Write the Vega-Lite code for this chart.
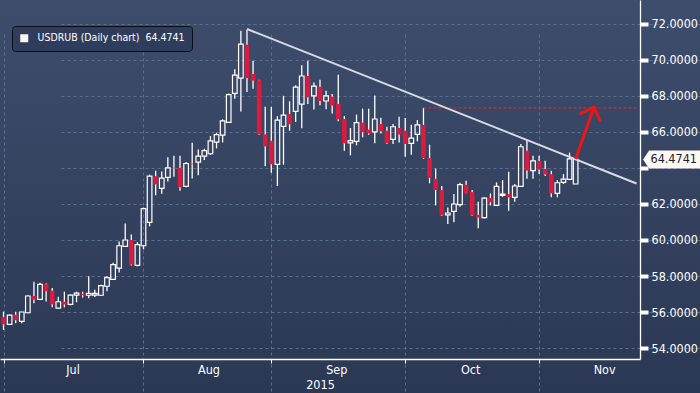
{
  "$schema": "https://vega.github.io/schema/vega-lite/v6.json",
  "width": 700,
  "height": 393,
  "autosize": {"type": "none"},
  "padding": 0,
  "background": "#2c3a57",
  "view": {"stroke": null, "fill": {"gradient": "linear", "x1": 0, "y1": 0, "x2": 0, "y2": 1, "stops": [{"offset": 0, "color": "#3f4d6d"}, {"offset": 1, "color": "#2a3854"}]}},
  "config": {"font": "DejaVu Sans Condensed"},
  "datasets": {
    "candles": [
      {"d":"2015-07-01","o":55.74,"h":56.02,"l":55.00,"c":55.30},
      {"d":"2015-07-02","o":55.31,"h":55.85,"l":55.29,"c":55.83},
      {"d":"2015-07-03","o":55.85,"h":56.02,"l":55.37,"c":55.54},
      {"d":"2015-07-06","o":55.48,"h":56.02,"l":55.37,"c":56.00},
      {"d":"2015-07-07","o":55.96,"h":56.93,"l":55.93,"c":56.89},
      {"d":"2015-07-08","o":56.89,"h":57.68,"l":56.48,"c":56.68},
      {"d":"2015-07-09","o":56.70,"h":57.63,"l":56.68,"c":57.54},
      {"d":"2015-07-10","o":57.54,"h":57.59,"l":56.59,"c":57.15},
      {"d":"2015-07-13","o":57.18,"h":57.33,"l":56.26,"c":56.42},
      {"d":"2015-07-14","o":56.22,"h":56.85,"l":56.20,"c":56.57},
      {"d":"2015-07-15","o":56.57,"h":57.13,"l":56.26,"c":56.42},
      {"d":"2015-07-16","o":56.42,"h":56.98,"l":56.37,"c":56.94},
      {"d":"2015-07-17","o":56.94,"h":57.13,"l":56.54,"c":57.05},
      {"d":"2015-07-20","o":57.02,"h":57.13,"l":56.80,"c":56.94},
      {"d":"2015-07-21","o":56.93,"h":57.98,"l":56.76,"c":57.04},
      {"d":"2015-07-22","o":56.94,"h":57.24,"l":56.83,"c":57.04},
      {"d":"2015-07-23","o":56.93,"h":57.52,"l":56.89,"c":57.46},
      {"d":"2015-07-24","o":57.43,"h":58.00,"l":57.15,"c":57.91},
      {"d":"2015-07-27","o":57.81,"h":58.74,"l":57.80,"c":58.63},
      {"d":"2015-07-28","o":58.44,"h":59.91,"l":58.20,"c":59.68},
      {"d":"2015-07-29","o":59.65,"h":60.91,"l":59.62,"c":60.00},
      {"d":"2015-07-30","o":60.00,"h":60.30,"l":58.59,"c":58.63},
      {"d":"2015-07-31","o":58.59,"h":59.89,"l":58.54,"c":59.74},
      {"d":"2015-08-03","o":59.68,"h":61.80,"l":59.48,"c":61.74},
      {"d":"2015-08-04","o":60.98,"h":63.63,"l":60.76,"c":63.55},
      {"d":"2015-08-05","o":63.55,"h":63.85,"l":62.48,"c":63.09},
      {"d":"2015-08-06","o":62.87,"h":63.81,"l":62.57,"c":63.44},
      {"d":"2015-08-07","o":63.48,"h":64.59,"l":63.25,"c":64.01},
      {"d":"2015-08-10","o":64.02,"h":64.68,"l":63.51,"c":63.98},
      {"d":"2015-08-11","o":64.01,"h":64.68,"l":62.74,"c":62.92},
      {"d":"2015-08-12","o":62.98,"h":64.33,"l":62.93,"c":64.25},
      {"d":"2015-08-13","o":64.24,"h":65.40,"l":63.42,"c":64.20},
      {"d":"2015-08-14","o":64.33,"h":65.03,"l":63.59,"c":64.66},
      {"d":"2015-08-17","o":64.66,"h":65.07,"l":64.44,"c":64.96},
      {"d":"2015-08-18","o":64.79,"h":65.77,"l":64.72,"c":65.50},
      {"d":"2015-08-19","o":65.44,"h":65.96,"l":65.09,"c":65.85},
      {"d":"2015-08-20","o":65.83,"h":66.70,"l":65.42,"c":66.62},
      {"d":"2015-08-21","o":66.53,"h":68.14,"l":66.50,"c":68.07},
      {"d":"2015-08-24","o":68.14,"h":69.48,"l":67.85,"c":69.16},
      {"d":"2015-08-25","o":68.99,"h":71.62,"l":67.14,"c":70.88},
      {"d":"2015-08-26","o":70.85,"h":71.66,"l":68.22,"c":68.99},
      {"d":"2015-08-27","o":69.22,"h":69.96,"l":68.40,"c":68.85},
      {"d":"2015-08-28","o":68.88,"h":68.90,"l":65.85,"c":65.87},
      {"d":"2015-08-31","o":65.87,"h":67.40,"l":64.10,"c":65.20},
      {"d":"2015-09-01","o":65.51,"h":67.40,"l":63.74,"c":64.20},
      {"d":"2015-09-02","o":64.20,"h":66.88,"l":63.00,"c":66.66},
      {"d":"2015-09-03","o":66.31,"h":68.01,"l":64.18,"c":66.94},
      {"d":"2015-09-04","o":67.00,"h":67.70,"l":66.07,"c":66.42},
      {"d":"2015-09-07","o":67.14,"h":68.60,"l":66.55,"c":68.49},
      {"d":"2015-09-08","o":67.55,"h":69.70,"l":66.20,"c":69.11},
      {"d":"2015-09-09","o":69.11,"h":69.96,"l":67.55,"c":67.92},
      {"d":"2015-09-10","o":68.00,"h":68.75,"l":67.25,"c":68.55},
      {"d":"2015-09-11","o":68.51,"h":68.90,"l":67.48,"c":67.72},
      {"d":"2015-09-14","o":67.72,"h":68.29,"l":67.26,"c":68.00},
      {"d":"2015-09-15","o":67.96,"h":68.11,"l":67.03,"c":67.46},
      {"d":"2015-09-16","o":67.55,"h":69.18,"l":66.59,"c":66.70},
      {"d":"2015-09-17","o":66.72,"h":66.89,"l":64.96,"c":65.37},
      {"d":"2015-09-18","o":65.39,"h":66.22,"l":64.70,"c":65.52},
      {"d":"2015-09-21","o":65.48,"h":66.96,"l":65.26,"c":66.52},
      {"d":"2015-09-22","o":66.52,"h":67.29,"l":65.70,"c":65.98},
      {"d":"2015-09-23","o":66.13,"h":67.29,"l":65.85,"c":65.92},
      {"d":"2015-09-24","o":66.00,"h":68.02,"l":65.37,"c":66.72},
      {"d":"2015-09-25","o":66.44,"h":66.79,"l":65.92,"c":66.03},
      {"d":"2015-09-28","o":66.07,"h":66.29,"l":65.33,"c":65.37},
      {"d":"2015-09-29","o":65.59,"h":66.44,"l":65.33,"c":66.29},
      {"d":"2015-09-30","o":66.22,"h":66.85,"l":65.41,"c":65.85},
      {"d":"2015-10-01","o":66.07,"h":66.77,"l":64.63,"c":65.33},
      {"d":"2015-10-02","o":65.37,"h":66.40,"l":64.74,"c":65.66},
      {"d":"2015-10-05","o":65.87,"h":66.66,"l":65.48,"c":66.39},
      {"d":"2015-10-06","o":66.39,"h":67.34,"l":64.50,"c":64.55},
      {"d":"2015-10-07","o":64.55,"h":65.29,"l":63.15,"c":63.44},
      {"d":"2015-10-08","o":63.40,"h":63.96,"l":61.92,"c":62.77},
      {"d":"2015-10-09","o":62.77,"h":63.00,"l":61.33,"c":61.37},
      {"d":"2015-10-12","o":61.39,"h":61.81,"l":60.89,"c":61.50},
      {"d":"2015-10-13","o":61.59,"h":62.55,"l":60.98,"c":62.00},
      {"d":"2015-10-14","o":61.96,"h":63.18,"l":61.85,"c":63.07},
      {"d":"2015-10-15","o":63.07,"h":63.29,"l":62.60,"c":62.61},
      {"d":"2015-10-16","o":62.66,"h":62.77,"l":61.35,"c":61.37},
      {"d":"2015-10-19","o":61.40,"h":62.12,"l":60.65,"c":61.24},
      {"d":"2015-10-20","o":61.24,"h":62.38,"l":61.20,"c":62.33},
      {"d":"2015-10-21","o":62.33,"h":62.59,"l":61.92,"c":62.09},
      {"d":"2015-10-22","o":61.92,"h":63.20,"l":61.90,"c":62.98},
      {"d":"2015-10-23","o":62.48,"h":63.33,"l":62.40,"c":62.55},
      {"d":"2015-10-26","o":62.55,"h":63.79,"l":61.62,"c":62.37},
      {"d":"2015-10-27","o":62.37,"h":63.11,"l":62.12,"c":63.00},
      {"d":"2015-10-28","o":62.98,"h":65.33,"l":62.96,"c":65.18},
      {"d":"2015-10-29","o":64.96,"h":65.55,"l":63.40,"c":63.85},
      {"d":"2015-10-30","o":63.85,"h":64.68,"l":63.40,"c":64.40},
      {"d":"2015-11-02","o":64.40,"h":64.68,"l":63.66,"c":63.90},
      {"d":"2015-11-03","o":63.94,"h":64.40,"l":63.55,"c":63.64},
      {"d":"2015-11-04","o":63.66,"h":63.85,"l":62.37,"c":62.59},
      {"d":"2015-11-05","o":62.59,"h":63.33,"l":62.37,"c":63.18},
      {"d":"2015-11-06","o":63.20,"h":63.66,"l":63.11,"c":63.38},
      {"d":"2015-11-09","o":63.37,"h":64.85,"l":63.35,"c":64.51},
      {"d":"2015-11-10","o":63.11,"h":64.52,"l":63.10,"c":64.4741}
    ],
    "trend": [{"d":"2015-08-26","v":71.72},{"d":"2015-11-24","v":63.14}],
    "hline": [{"d":"2015-10-06","d2":"2015-11-24","v":67.34}],
    "arrow": [{"d":"2015-11-10","v":64.50},{"d":"2015-11-13","v":67.37}],
    "tip": [{"d":"2015-11-13","v":67.37}],
    "last": [{"d":"2015-11-24","v":64.4741}]
  },
  "data": {"name": "candles"},
  "encoding": {
    "x": {
      "field": "d", "type": "ordinal",
      "scale": {"type": "point", "range": [0, 640], "padding": 0.577, "domain": [
        "2015-07-01","2015-07-02","2015-07-03","2015-07-06","2015-07-07","2015-07-08","2015-07-09","2015-07-10","2015-07-13","2015-07-14","2015-07-15","2015-07-16","2015-07-17","2015-07-20","2015-07-21","2015-07-22","2015-07-23","2015-07-24","2015-07-27","2015-07-28","2015-07-29","2015-07-30","2015-07-31",
        "2015-08-03","2015-08-04","2015-08-05","2015-08-06","2015-08-07","2015-08-10","2015-08-11","2015-08-12","2015-08-13","2015-08-14","2015-08-17","2015-08-18","2015-08-19","2015-08-20","2015-08-21","2015-08-24","2015-08-25","2015-08-26","2015-08-27","2015-08-28","2015-08-31",
        "2015-09-01","2015-09-02","2015-09-03","2015-09-04","2015-09-07","2015-09-08","2015-09-09","2015-09-10","2015-09-11","2015-09-14","2015-09-15","2015-09-16","2015-09-17","2015-09-18","2015-09-21","2015-09-22","2015-09-23","2015-09-24","2015-09-25","2015-09-28","2015-09-29","2015-09-30",
        "2015-10-01","2015-10-02","2015-10-05","2015-10-06","2015-10-07","2015-10-08","2015-10-09","2015-10-12","2015-10-13","2015-10-14","2015-10-15","2015-10-16","2015-10-19","2015-10-20","2015-10-21","2015-10-22","2015-10-23","2015-10-26","2015-10-27","2015-10-28","2015-10-29","2015-10-30",
        "2015-11-02","2015-11-03","2015-11-04","2015-11-05","2015-11-06","2015-11-09","2015-11-10","2015-11-11","2015-11-12","2015-11-13","2015-11-16","2015-11-17","2015-11-18","2015-11-19","2015-11-20","2015-11-23","2015-11-24"
      ]},
      "axis": {
        "values": ["2015-07-01","2015-08-03","2015-09-01","2015-10-01","2015-11-02"],
        "labelExpr": "utcFormat(toDate(datum.value), '%b')",
        "labelOffset": {"condition": {"test": "datum.value === '2015-07-01'", "value": 69}, "value": 65},
        "labelAngle": 0, "labelPadding": 0, "labelOverlap": false, "labelBound": false,
        "labelColor": "#ffffff", "labelFont": "DejaVu Sans Condensed", "labelFontSize": 12.5,
        "title": "2015", "titleColor": "#ffffff", "titleFont": "DejaVu Sans Condensed", "titleFontSize": 12.5, "titleFontWeight": "normal", "titlePadding": 3,
        "offset": -34, "tickSize": 4, "tickColor": "#ffffff", "domainColor": "#ffffff", "domainWidth": 1.3,
        "grid": true, "gridColor": "#5b7090", "gridDash": [3, 3], "gridWidth": 1
      }
    }
  },
  "layer": [
    {
      "mark": {"type": "rule", "color": "#ffffff", "strokeWidth": 1.3},
      "encoding": {
        "y": {"field": "h", "type": "quantitative",
          "scale": {"domain": [53.39, 73.33], "range": [359, 0], "nice": false, "zero": false},
          "axis": {
            "orient": "right", "offset": -60, "title": null,
            "values": [54,55,56,57,58,59,60,61,62,63,64,65,66,67,68,69,70,71,72,73],
            "labelExpr": "datum.value % 2 === 0 && datum.value !== 64 ? format(datum.value, '.4f') : ''",
            "labelColor": "#ffffff", "labelFont": "DejaVu Sans Condensed", "labelFontSize": 12.5, "labelPadding": 3,
            "domainColor": "#ffffff", "domainWidth": 1.3, "tickColor": "#ffffff",
            "tickSize": {"condition": {"test": "datum.value % 2 === 0", "value": 8}, "value": 5},
            "tickWidth": {"condition": {"test": "datum.value % 2 === 0", "value": 4}, "value": 1.2},
            "grid": true, "gridColor": "#5b7090", "gridDash": [3, 3], "gridWidth": 1,
            "gridOpacity": {"condition": {"test": "datum.value % 2 === 0", "value": 1}, "value": 0}
          }
        },
        "y2": {"field": "c"}
      }
    },
    {
      "mark": {"type": "rule", "color": "#ffffff", "strokeWidth": 1.3},
      "encoding": {
        "y": {"field": "o", "type": "quantitative", "scale": {"domain": [53.39, 73.33], "range": [359, 0], "nice": false, "zero": false}},
        "y2": {"field": "l"}
      }
    },
    {
      "data": {"name": "hline"},
      "mark": {"type": "rule", "color": "#d8262e", "strokeDash": [3, 2], "strokeWidth": 1.2},
      "encoding": {
        "x2": {"field": "d2"},
        "y": {"field": "v", "type": "quantitative", "scale": {"domain": [53.39, 73.33], "range": [359, 0], "nice": false, "zero": false}}
      }
    },
    {
      "mark": {"type": "bar", "width": 4.6, "strokeWidth": 1.2},
      "encoding": {
        "y": {"field": "o", "type": "quantitative", "scale": {"domain": [53.39, 73.33], "range": [359, 0], "nice": false, "zero": false}},
        "y2": {"field": "c"},
        "fill": {"condition": {"test": "datum.c < datum.o", "value": "#dc1a3d"}, "value": "transparent"},
        "stroke": {"condition": {"test": "datum.c < datum.o", "value": "transparent"}, "value": "#ffffff"}
      }
    },
    {
      "data": {"name": "trend"},
      "mark": {"type": "line", "color": "#d9dce4", "strokeWidth": 2},
      "encoding": {
        "y": {"field": "v", "type": "quantitative", "scale": {"domain": [53.39, 73.33], "range": [359, 0], "nice": false, "zero": false}}
      }
    },
    {
      "data": {"name": "arrow"},
      "mark": {"type": "line", "color": "#ee1515", "strokeWidth": 3},
      "encoding": {
        "y": {"field": "v", "type": "quantitative", "scale": {"domain": [53.39, 73.33], "range": [359, 0], "nice": false, "zero": false}}
      }
    },
    {
      "data": {"name": "tip"},
      "mark": {"type": "point", "shape": "M-1,1L0,0L1,1", "size": 500, "angle": 20, "filled": false, "stroke": "#ee1515", "strokeWidth": 3, "opacity": 1},
      "encoding": {
        "y": {"field": "v", "type": "quantitative", "scale": {"domain": [53.39, 73.33], "range": [359, 0], "nice": false, "zero": false}}
      }
    },
    {
      "data": {"name": "last"},
      "mark": {"type": "point", "shape": "M0.11,0L0.21,-0.15L1.1,-0.15L1.1,0.15L0.21,0.15Z", "size": 14400, "filled": true, "fill": "#fff8f0", "strokeWidth": 0, "opacity": 1},
      "encoding": {
        "y": {"field": "v", "type": "quantitative", "scale": {"domain": [53.39, 73.33], "range": [359, 0], "nice": false, "zero": false}}
      }
    },
    {
      "data": {"name": "last"},
      "mark": {"type": "text", "dx": 14, "align": "left", "baseline": "middle", "font": "DejaVu Sans Condensed", "fontSize": 12.5, "color": "#1b2233"},
      "encoding": {
        "y": {"field": "v", "type": "quantitative", "scale": {"domain": [53.39, 73.33], "range": [359, 0], "nice": false, "zero": false}},
        "text": {"field": "v", "type": "quantitative", "format": ".4f"}
      }
    },
    {
      "transform": [{"filter": "false"}],
      "mark": {"type": "square"},
      "encoding": {
        "fill": {
          "datum": "USDRUB (Daily chart)\u00a0\u00a064.4741",
          "scale": {"range": ["#fff6ee"]},
          "legend": {
            "orient": "none", "legendX": 12, "legendY": 26, "title": null,
            "padding": 7, "cornerRadius": 3, "fillColor": "#2f3d5c", "strokeColor": "#0b0f1a",
            "symbolType": "square", "symbolSize": 64, "symbolStrokeWidth": 0, "symbolOpacity": 1, "labelOffset": 8,
            "labelColor": "#ffffff", "labelFont": "DejaVu Sans Condensed", "labelFontSize": 10.5, "labelLimit": 400
          }
        }
      }
    }
  ]
}
